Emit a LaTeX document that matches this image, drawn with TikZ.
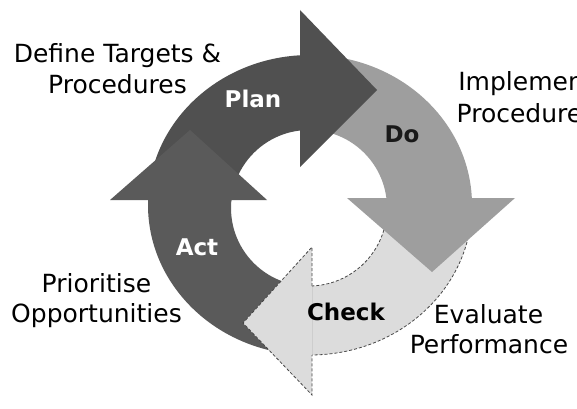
\documentclass[tikz,border=0pt]{standalone}
\usepackage{fontspec}
\setmainfont{DejaVu Sans}
\definecolor{plancol}{HTML}{505050}
\definecolor{docol}{HTML}{9E9E9E}
\definecolor{checkcol}{HTML}{DCDCDC}
\definecolor{actcol}{HTML}{5A5A5A}
\definecolor{checkline}{HTML}{474747}
\begin{document}
\begin{tikzpicture}[x=1pt,y=1pt,
  lbl/.style={font=\fontsize{25}{30}\selectfont, inner sep=0pt, anchor=base, text=black},
  tag/.style={font=\fontsize{23}{27}\selectfont\bfseries, inner sep=0pt},
  ring/.style={even odd rule},
  dashline/.style={draw=checkline, densely dashed, line width=0.8pt}
]
\useasboundingbox (0,0) rectangle (577,408);
\clip (0,0) rectangle (577,408);
\coordinate (oc) at (310,203);
\coordinate (ic) at (309,200);
% bodies
\begin{scope}
  \clip (0,208) rectangle (300,408);
  \fill[plancol, ring] (oc) ellipse [x radius=162, y radius=150] (ic) circle [radius=78];
\end{scope}
\begin{scope}
  \clip (300,210) rectangle (577,408);
  \fill[docol, ring] (oc) ellipse [x radius=162, y radius=150] (ic) circle [radius=78];
\end{scope}
\begin{scope}
  \clip (312,0) rectangle (577,210);
  \fill[checkcol, ring] (oc) ellipse [x radius=162, y radius=150] (ic) circle [radius=78];
  \draw[dashline] (oc) ellipse [x radius=162, y radius=150];
  \draw[dashline] (ic) circle [radius=78];
\end{scope}
\begin{scope}
  \clip (0,0) rectangle (312,208);
  \fill[actcol, ring] (oc) ellipse [x radius=162, y radius=150] (ic) circle [radius=78];
\end{scope}
% heads
\fill[plancol] (300,398) -- (377,318) -- (300,241) -- cycle;
\fill[docol] (347,210) -- (515,210) -- (432,136) -- cycle;
\fill[checkcol] (312,161) -- (243,85) -- (312,13) -- cycle;
\draw[dashline] (312,122) -- (312,161) -- (243,85) -- (312,13) -- (312,53);
\fill[actcol] (110,208) -- (267,208) -- (190,278) -- cycle;
% tags
\node[tag, text=white] (plan) at (253,309) {Plan};
\node[tag, text=black!90] (do) at (402,274) {Do};
\node[tag, text=black] (check) at (346,96) {Check};
\node[tag, text=white] (act) at (197,161) {Act};
% outer labels
\node[lbl] (def1) at (117.5,346) {Define Targets \&};
\node[lbl] (def2) at (117.5,315) {Procedures};
\node[lbl] (imp1) at (526,318) {Implement};
\node[lbl] (imp2) at (526,286) {Procedures};
\node[lbl] (pri1) at (96.5,116) {Prioritise};
\node[lbl] (pri2) at (96.5,86) {Opportunities};
\node[lbl] (eva1) at (488.5,85) {Evaluate};
\node[lbl] (eva2) at (489,55) {Performance};
\end{tikzpicture}
\end{document}
